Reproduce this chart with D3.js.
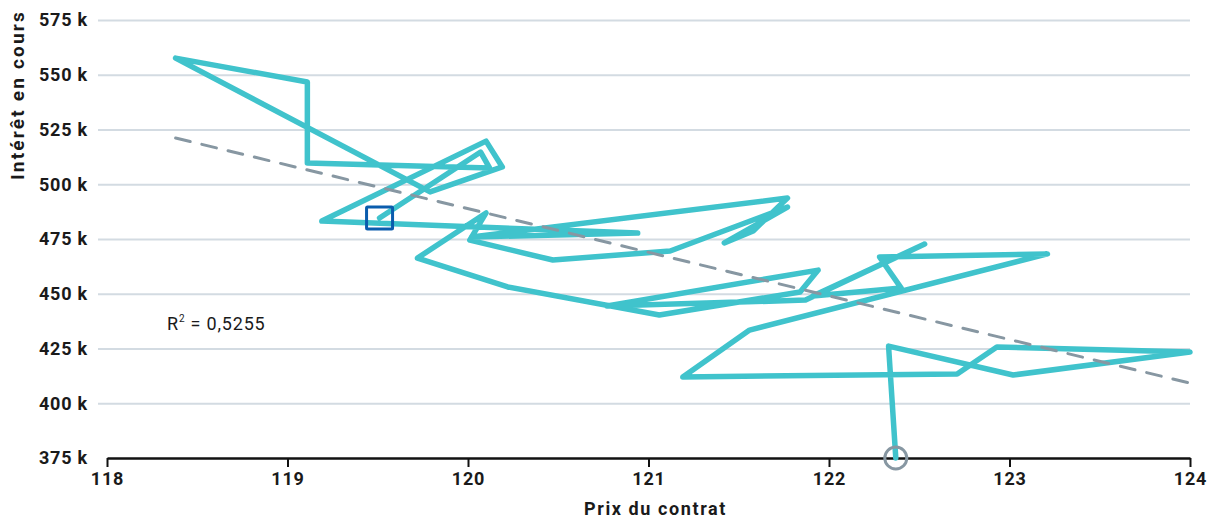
<!DOCTYPE html>
<html>
<head>
<meta charset="utf-8">
<script src="https://cdn.jsdelivr.net/npm/d3@7"></script>
<style>
  body { margin: 0; background: #fff; }
  text { font-family: Roboto, "DejaVu Sans", sans-serif; }
</style>
</head>
<body>
<script>
// contract price (x) and open interest (y), in path order
const prices = [122.37, 122.33, 123.02, 124.0, 122.93, 122.71, 121.19, 121.56, 123.21, 122.28,
  122.40, 121.91, 122.53, 121.87, 120.77, 121.94, 121.84, 121.06, 120.22, 119.72,
  120.10, 120.01, 120.47, 121.12, 121.77, 121.42, 121.58, 121.77, 120.02, 120.94,
  119.19, 120.10, 120.19, 119.79, 118.38, 119.11, 119.11, 120.12, 120.07, 119.51];
const interest = [375000, 426100, 412900, 423400, 425700, 413400, 412000, 433400, 468200, 466800,
  452600, 449000, 472700, 447100, 444400, 460800, 450800, 440300, 453100, 466300,
  486900, 474500, 465400, 469500, 489600, 473200, 478700, 493700, 475900, 477700,
  483200, 519700, 507900, 496500, 557600, 546700, 509700, 507400, 514700, 484600];
// regression line end points
const trendX = [118.38, 124];
const trendY = [521100, 409200];
const xTicks = [118, 119, 120, 121, 122, 123, 124];
const yTicks = [375000, 400000, 425000, 450000, 475000, 500000, 525000, 550000, 575000];
const rSquared = "0,5255";

const W = 1211, H = 521;
const margin = {top: 20, right: 21, bottom: 63, left: 107};

const svg = d3.select("body").append("svg")
  .attr("width", W).attr("height", H);

const x = d3.scaleLinear().domain([118, 124]).range([margin.left, W - margin.right]);
const y = d3.scaleLinear().domain([375000, 575000]).range([H - margin.bottom, margin.top]);

// y gridlines + labels
const yAxis = svg.append("g")
  .attr("transform", "translate(" + (W - margin.right) + ",0)")
  .call(d3.axisLeft(y).tickValues(yTicks)
    .tickSize(W - margin.right - margin.left + 9)
    .tickFormat(d => d / 1000 + " k"));
yAxis.select(".domain").remove();
yAxis.selectAll(".tick line").attr("stroke", "#d3dbe2").attr("stroke-width", 2);
yAxis.selectAll(".tick text")
  .attr("x", -(W - margin.right - margin.left + 19))
  .attr("font-size", 18).attr("font-weight", 700).attr("letter-spacing", 0.8)
  .attr("fill", "#1a1a1a");
yAxis.selectAll(".tick").filter(d => d === 375000).select("line").remove();

// x axis
const xAxis = svg.append("g")
  .attr("transform", "translate(0," + (H - margin.bottom) + ")")
  .call(d3.axisBottom(x).tickValues(xTicks).tickSize(9).tickSizeOuter(0).tickFormat(d3.format("d")));
xAxis.select(".domain").attr("stroke", "#111").attr("stroke-width", 2.5);
xAxis.selectAll(".tick line").attr("stroke", "#111").attr("stroke-width", 2);
xAxis.selectAll(".tick text")
  .attr("y", 14).attr("font-size", 18).attr("font-weight", 700).attr("letter-spacing", 0.8)
  .attr("fill", "#1a1a1a");

// axis titles
svg.append("text")
  .attr("x", (margin.left + W - margin.right) / 2 + 7).attr("y", H - 6)
  .attr("text-anchor", "middle")
  .attr("font-size", 18).attr("font-weight", 700).attr("letter-spacing", 1.6)
  .attr("fill", "#1a1a1a")
  .text("Prix du contrat");
svg.append("text")
  .attr("transform", "translate(24,10) rotate(-90)")
  .attr("text-anchor", "end")
  .attr("font-size", 19).attr("font-weight", 700).attr("letter-spacing", 2.2)
  .attr("fill", "#1a1a1a")
  .text("Intérêt en cours");

// connected path
const pts = prices.map((p, i) => [p, interest[i]]);
const line = d3.line().x(d => x(d[0])).y(d => y(d[1]));
svg.append("path")
  .datum(pts)
  .attr("d", line)
  .attr("fill", "none")
  .attr("stroke", "#40c3cc")
  .attr("stroke-width", 5.5)
  .attr("stroke-linejoin", "round")
  .attr("stroke-linecap", "round");

// regression line
svg.append("path")
  .datum(trendX.map((t, i) => [t, trendY[i]]))
  .attr("d", line)
  .attr("fill", "none")
  .attr("stroke", "#8797a2")
  .attr("stroke-width", 3)
  .attr("stroke-dasharray", "15,12")
  .attr("stroke-linecap", "round");

// start / end markers
const first = pts[0], last = pts[pts.length - 1];
svg.append("circle")
  .attr("cx", x(first[0])).attr("cy", y(first[1])).attr("r", 11)
  .attr("fill", "none").attr("stroke", "#8797a2").attr("stroke-width", 3);
svg.append("rect")
  .attr("x", x(last[0]) - 13).attr("y", y(last[1]) - 11)
  .attr("width", 26).attr("height", 22).attr("rx", 1)
  .attr("fill", "none").attr("stroke", "#0a5cad").attr("stroke-width", 3);

// R squared note
const note = svg.append("text")
  .attr("x", 167).attr("y", 330)
  .attr("font-size", 18).attr("letter-spacing", 0.8).attr("fill", "#1a1a1a");
note.append("tspan").text("R");
note.append("tspan").attr("font-size", 10).attr("dy", -8).text("2");
note.append("tspan").attr("dy", 8).text(" = " + rSquared);
</script>
</body>
</html>
